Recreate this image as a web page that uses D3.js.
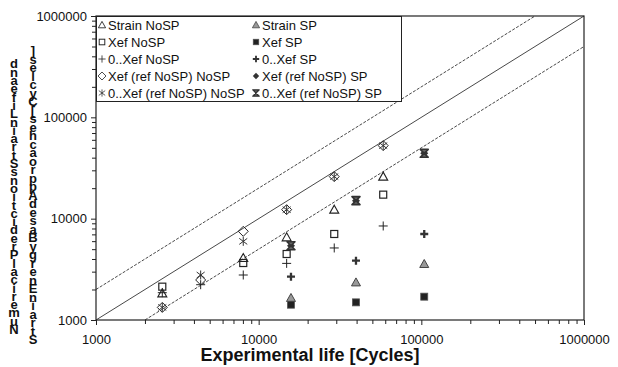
<!DOCTYPE html>
<html>
<head>
<meta charset="utf-8">
<script src="https://cdn.jsdelivr.net/npm/d3@7.9.0/dist/d3.min.js"></script>
<style>
  body { margin: 0; background: #fff; }
  svg { display: block; font-family: Arial, "Liberation Sans", sans-serif; }
</style>
</head>
<body>
<svg id="chart" width="618" height="367"></svg>
<script>
// experimental life [cycles] vs predicted life [cycles]
const strainNoSP = [[2556, 1832], [8040, 4090], [14860, 6540], [29150, 12270], [58300, 26000]];
const strainSP = [[15800, 1650], [39650, 2350], [104200, 3570]];
const xefNoSP = [[2556, 2133], [8040, 3650], [14860, 4480], [29150, 7060], [58300, 17260]];
const xefSP = [[15800, 1416], [39650, 1493], [104200, 1699]];
const zeroXefNoSP = [[2556, 1860], [4400, 2230], [8040, 2780], [14860, 3620], [29150, 5140], [58300, 8470]];
const zeroXefSP = [[15800, 2675], [39650, 3850], [104200, 7060]];
const xefRefNoSP = [[2556, 1331], [4400, 2483], [8040, 7500], [14860, 12270], [29150, 26000], [58300, 52560]];
const xefRefSP = [[15800, 5410], [39650, 15060], [104200, 44150]];
const zeroXefRefNoSP = [[2556, 1331], [4400, 2780], [8040, 5970], [14860, 12270], [29150, 26000], [58300, 52560]];
const zeroXefRefSP = [[15800, 5410], [39650, 15060], [104200, 44150]];

const seriesNames = [
  'Strain NoSP', 'Strain SP',
  'Xef NoSP', 'Xef SP',
  '0..Xef NoSP', '0..Xef SP',
  'Xef (ref NoSP) NoSP', 'Xef (ref NoSP) SP',
  '0..Xef (ref NoSP) NoSP', '0..Xef (ref NoSP) SP'
];
const seriesData = [
  strainNoSP, strainSP, xefNoSP, xefSP, zeroXefNoSP,
  zeroXefSP, xefRefNoSP, xefRefSP, zeroXefRefNoSP, zeroXefRefSP
];

const majorTicks = [1000, 10000, 100000, 1000000];
const xTitle = 'Experimental life [Cycles]';
const yTitleA = 'Numerical Predictions Strain Life and';
const yTitleB = 'Strain Energy Based Approaches [Cycles]';

// reference lines: factor on experimental life
const bandFactors = [0.5, 1, 2];

// ---- layout
const margin = { left: 96, right: 34, top: 16, bottom: 47 };
const width = 618, height = 367;
const svg = d3.select('#chart');

const x = d3.scaleLog().domain([1000, 1000000]).range([margin.left, width - margin.right]);
const y = d3.scaleLog().domain([1000, 1000000]).range([height - margin.bottom, margin.top]);

const minorTicks = [];
for (const m of majorTicks.slice(0, -1)) {
  for (let k = 2; k <= 9; k++) minorTicks.push(m * k);
}

// minor ticks
svg.append('g')
  .attr('transform', `translate(0,${y.range()[0]})`)
  .call(d3.axisBottom(x).tickValues(minorTicks).tickSize(4).tickFormat(''))
  .call(g => g.select('.domain').remove());
svg.append('g')
  .attr('transform', `translate(${x.range()[0]},0)`)
  .call(d3.axisLeft(y).tickValues(minorTicks).tickSize(4).tickFormat(''))
  .call(g => g.select('.domain').remove());

// major ticks
svg.append('g')
  .attr('transform', `translate(0,${y.range()[0]})`)
  .call(d3.axisBottom(x).tickValues(majorTicks).tickSize(5).tickPadding(10).tickFormat(d3.format('d')))
  .call(g => g.select('.domain').remove())
  .call(g => g.selectAll('text').attr('font-size', 13).attr('fill', '#111').attr('font-family', null));
svg.append('g')
  .attr('transform', `translate(${x.range()[0]},0)`)
  .call(d3.axisLeft(y).tickValues(majorTicks).tickSize(5).tickPadding(4).tickFormat(d3.format('d')))
  .call(g => g.select('.domain').remove())
  .call(g => g.selectAll('text').attr('font-size', 13).attr('fill', '#111').attr('font-family', null));

svg.selectAll('.tick line').attr('stroke', '#222');

// reference lines
const line = d3.line().x(d => x(d[0])).y(d => y(d[1]));
bandFactors.forEach(f => {
  const x0 = Math.max(1000, 1000 / f);
  const x1 = Math.min(1000000, 1000000 / f);
  svg.append('path')
    .attr('d', line([[x0, x0 * f], [x1, x1 * f]]))
    .attr('fill', 'none')
    .attr('stroke', '#333')
    .attr('stroke-width', 0.9)
    .attr('stroke-dasharray', f === 1 ? null : '3,1.5');
});

// symbols
const sym = {
  triOpen: g => g.append('path').attr('d', 'M0,-4.5L4.5,3.5L-4.5,3.5Z').attr('fill', 'none').attr('stroke', '#222').attr('stroke-width', 1.1),
  triGray: g => g.append('path').attr('d', 'M0,-4.5L4.5,3.5L-4.5,3.5Z').attr('fill', '#999').attr('stroke', '#444').attr('stroke-width', 1),
  sqOpen: g => g.append('rect').attr('x', -3.5).attr('y', -3.5).attr('width', 7).attr('height', 7).attr('fill', 'none').attr('stroke', '#222').attr('stroke-width', 1.2),
  sqFill: g => g.append('rect').attr('x', -3.5).attr('y', -3.5).attr('width', 7).attr('height', 7).attr('fill', '#222').attr('stroke', '#555').attr('stroke-width', 0.8),
  plusThin: g => g.append('path').attr('d', 'M-4.5,0H4.5M0,-4.5V4.5').attr('stroke', '#222').attr('stroke-width', 1),
  plusBold: g => g.append('path').attr('d', 'M-4,0H4M0,-4V4').attr('stroke', '#333').attr('stroke-width', 2.3),
  diaOpen: g => g.append('path').attr('d', 'M0,-5L5,0L0,5L-5,0Z').attr('fill', 'none').attr('stroke', '#222').attr('stroke-width', 1),
  diaFill: g => g.append('path').attr('d', 'M0,-4L4,0L0,4L-4,0Z').attr('fill', '#333'),
  star: g => g.append('path').attr('d', 'M0,-4.5V4.5M-4,-3L4,3M-4,3L4,-3').attr('stroke', '#333').attr('stroke-width', 1),
  bowtie: g => g.append('path').attr('d', 'M-4,-4H4L-4,4H4Z').attr('fill', '#666').attr('stroke', '#333').attr('stroke-width', 1.6).attr('stroke-linejoin', 'round')
};
const seriesSym = ['triOpen', 'triGray', 'sqOpen', 'sqFill', 'plusThin', 'plusBold', 'diaOpen', 'diaFill', 'star', 'bowtie'];
const drawOrder = [6, 7, 0, 1, 2, 3, 4, 5, 8, 9];

const marks = svg.append('g');
drawOrder.forEach(i => {
  marks.selectAll(null)
    .data(seriesData[i])
    .join('g')
    .attr('transform', d => `translate(${x(d[0])},${y(d[1])})`)
    .each(function () { sym[seriesSym[i]](d3.select(this)); });
});

// legend
const lg = svg.append('g');
lg.append('rect')
  .attr('x', 96.5).attr('y', 16.5).attr('width', 305).attr('height', 85)
  .attr('fill', '#fff').attr('stroke', '#222').attr('stroke-width', 1);
seriesNames.forEach((name, i) => {
  const col = i % 2, row = Math.floor(i / 2);
  const gx = col ? 256 : 102, gy = 25 + row * 17;
  const item = lg.append('g').attr('transform', `translate(${gx},${gy})`);
  const s = item.append('g').attr('transform', 'scale(0.8)');
  sym[seriesSym[i]](s);
  item.append('text').attr('x', 6).attr('y', 4.5)
    .attr('font-size', 13).attr('fill', '#111').text(name);
});

// frame
svg.append('rect')
  .attr('x', x.range()[0]).attr('y', y.range()[1])
  .attr('width', x.range()[1] - x.range()[0])
  .attr('height', y.range()[0] - y.range()[1])
  .attr('fill', 'none').attr('stroke', '#222').attr('stroke-width', 1.2);

// titles
svg.append('text')
  .attr('x', 310).attr('y', 361)
  .attr('text-anchor', 'middle')
  .attr('font-size', 18).attr('font-weight', 'bold').attr('fill', '#111')
  .text(xTitle);

// vertical title, letters stacked bottom to top
function stackTitle(str, cx, bottom, step) {
  const chars = str.replace(/ /g, '').split('');
  svg.append('g').selectAll('text')
    .data(chars)
    .join('text')
    .attr('x', cx)
    .attr('y', (d, i) => bottom - i * step)
    .attr('text-anchor', 'middle')
    .attr('font-size', 13).attr('font-weight', 'bold').attr('fill', '#111')
    .text(d => d);
}
stackTitle(yTitleA, 14, 334, 8.3);
stackTitle(yTitleB, 33, 344, 8.5);
</script>
</body>
</html>
